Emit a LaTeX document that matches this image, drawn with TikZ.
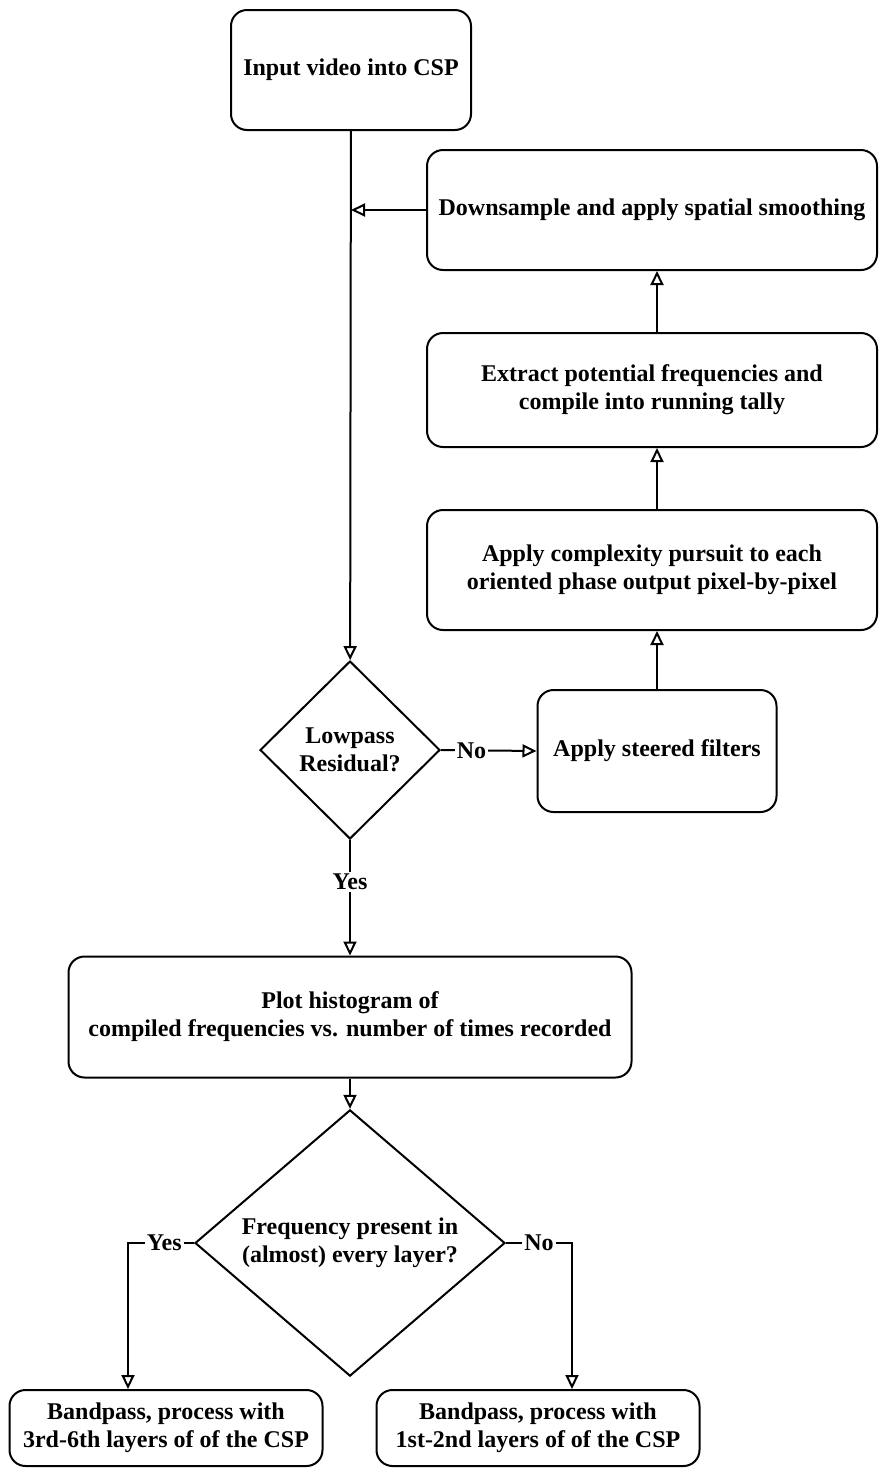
\documentclass[tikz,border=0pt]{standalone}
\usepackage{fontspec}
\setmainfont{Liberation Serif}
\usetikzlibrary{shapes.geometric, arrows.meta, positioning}

\begin{document}
\begin{tikzpicture}[
        x=0.5pt, y=-0.5pt,
        >={Triangle[open, length=7pt, width=6.5pt]},
        line width=1pt,
        every node/.style={font=\fontsize{12}{14}\selectfont\bfseries},
        box/.style={draw, rectangle, rounded corners=8pt, align=center, line width=1pt},
        decision/.style={draw, diamond, align=center, inner sep=0pt, line width=1pt},
        answer/.style={fill=white, inner sep=1pt}
    ]
        \useasboundingbox (0,0) rectangle (879,1468);

        % Main column
        \node[box, minimum width=120pt, minimum height=60pt] (input) at (351,70) {Input video into CSP};
        \node[decision, minimum width=90pt, minimum height=89pt] (lowpass) at (350,750) {Lowpass\\Residual?};
        \node[box, minimum width=281.5pt, minimum height=60.5pt] (histogram) at (350,1017) {Plot histogram of\\compiled frequencies vs. number of times recorded};
        \node[decision, minimum width=155pt, minimum height=110pt] (present) at (350,1243) {Frequency present in\\(almost) every layer?};

        % Right column (pyramid loop)
        \node[box, minimum width=119.5pt, minimum height=61pt] (steered) at (657,751) {Apply steered filters};
        \node[box, minimum width=225pt, minimum height=60pt] (pursuit) at (652,570) {Apply complexity pursuit to each\\oriented phase output pixel-by-pixel};
        \node[box, minimum width=225pt, minimum height=57pt] (tally) at (652,390) {Extract potential frequencies and\\compile into running tally};
        \node[box, minimum width=225pt, minimum height=60pt] (downsample) at (652,210) {Downsample and apply spatial smoothing};

        % Bottom row
        \node[box, minimum width=156.5pt, minimum height=38pt] (bandlow) at (166,1428) {Bandpass, process with\\3rd-6th layers of of the CSP};
        \node[box, minimum width=161.5pt, minimum height=38pt] (bandhigh) at (538,1428) {Bandpass, process with\\1st-2nd layers of of the CSP};

        \coordinate (yesturn) at (128,1243);
        \coordinate (noturn) at (572,1243);

        % Arrows
        \draw[->] (input) -- (lowpass);
        \draw[->] (downsample.west) -- (downsample.west -| input.south);
        \draw[->] (lowpass.east) -- node[answer, pos=0.32] {No} (steered.west);
        \draw[->] (steered.north) -- (steered.north |- pursuit.south);
        \draw[->] (steered.north |- pursuit.north) -- (steered.north |- tally.south);
        \draw[->] (steered.north |- tally.north) -- (steered.north |- downsample.south);
        \draw[->] (lowpass.south) -- node[answer, pos=0.36] {Yes} (histogram.north);
        \draw[->] (histogram) -- (present);
        \draw[->] (present.west) -- node[answer, pos=0.45] {Yes} (yesturn) -- (yesturn |- bandlow.north);
        \draw[->] (present.east) -- node[answer, pos=0.5] {No} (noturn) -- (noturn |- bandhigh.north);

    \end{tikzpicture}
\end{document}
